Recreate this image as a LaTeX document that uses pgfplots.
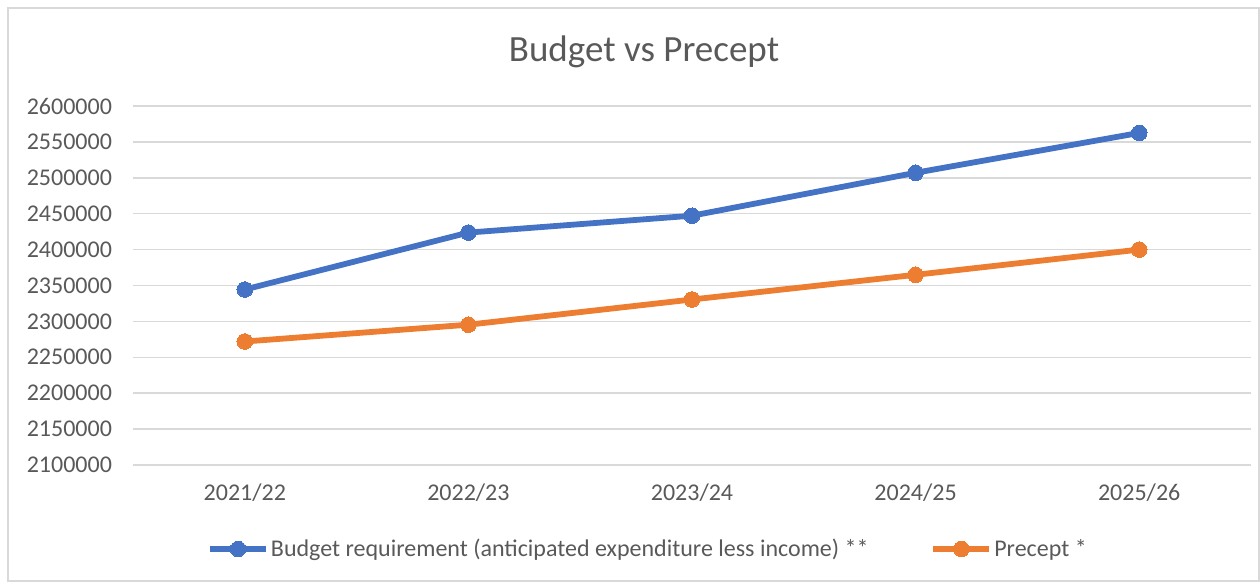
\documentclass[border=0pt]{standalone}
\usepackage{fontspec}
\setmainfont{Carlito}
\usepackage{pgfplots}
\pgfplotsset{compat=1.18}
\definecolor{cblue}{HTML}{4472C4}
\definecolor{corange}{HTML}{ED7D31}
\definecolor{ctext}{HTML}{595959}
\definecolor{cgrid}{HTML}{D9D9D9}
\begin{document}
\begin{tikzpicture}
\useasboundingbox (0,0) rectangle (630pt,291pt);
\draw[cgrid, line width=0.75pt] (4pt,0.6pt) rectangle (629.4pt,287pt);
\node[text=ctext, font=\fontsize{18.5}{22}\selectfont] at (322pt,265pt) {Budget vs Precept};
\begin{axis}[
  at={(66.5pt,58.5pt)}, anchor=south west,
  scale only axis, width=559pt, height=179.5pt,
  xmin=-0.5, xmax=4.5,
  ymin=2100000, ymax=2600000,
  ytick distance=50000,
  scaled y ticks=false,
  xtick={0,1,2,3,4},
  xticklabels={2021/22,2022/23,2023/24,2024/25,2025/26},
  ymajorgrids, grid style={cgrid, line width=0.75pt},
  axis line style={draw=none},
  major tick length=0pt,
  tick label style={text=ctext, font=\fontsize{12}{14}\selectfont},
  yticklabel style={xshift=-7pt},
  xticklabel style={yshift=-6pt},
  /pgf/number format/.cd, fixed, precision=0, 1000 sep={}, assume math mode=true,
  /pgfplots/.cd,
  legend columns=2,
  legend style={at={(0.4606,-0.234)}, anchor=center, draw=none, fill=none,
    font=\fontsize{12}{14}\selectfont, text=ctext,
    /tikz/every even column/.append style={column sep=30pt},
    nodes={inner sep=1pt}},
  legend image code/.code={\draw[#1, mark repeat=2, mark phase=2] plot coordinates {(0pt,0pt) (14pt,0pt) (28pt,0pt)};},
]
\addplot[cblue, line width=2.9pt, mark=*, mark size=3.9pt, mark options={solid, fill=cblue, draw=cblue, line width=0pt}]
  coordinates {(0,2344400) (1,2423700) (2,2447200) (3,2507000) (4,2562500)};
\addlegendentry{Budget requirement (anticipated expenditure less income) **}
\addplot[corange, line width=2.9pt, mark=*, mark size=3.9pt, mark options={solid, fill=corange, draw=corange, line width=0pt}]
  coordinates {(0,2272000) (1,2295400) (2,2330500) (3,2364900) (4,2400000)};
\addlegendentry{Precept *}
\end{axis}
\end{tikzpicture}
\end{document}
